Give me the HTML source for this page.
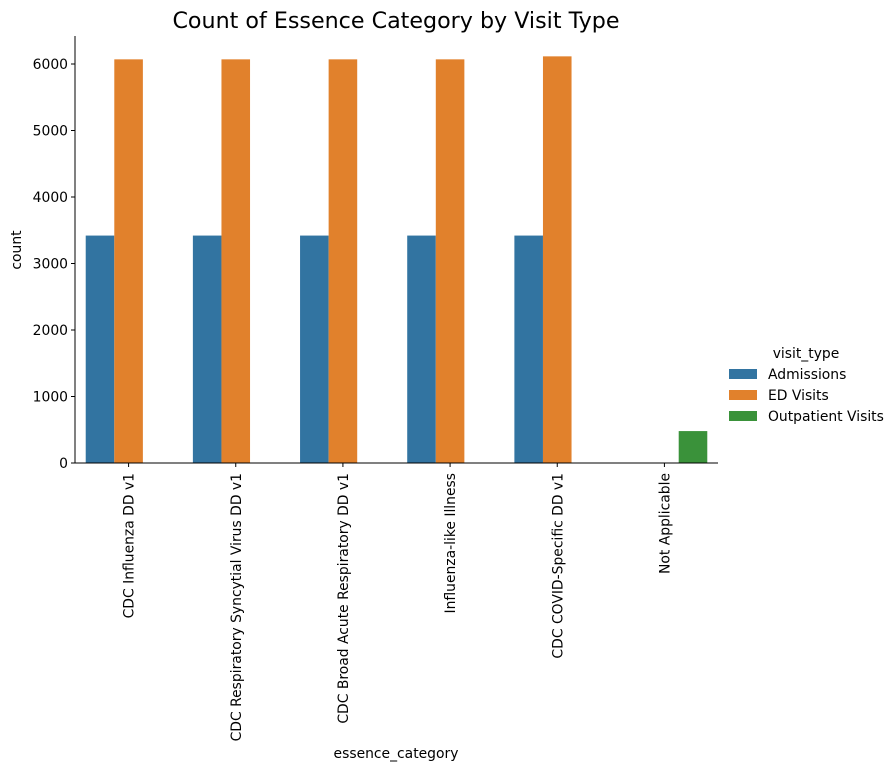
<!DOCTYPE html>
<html><head><meta charset="utf-8"><style>
body{margin:0;background:#fff;}
svg text{font-family:"DejaVu Sans","Liberation Sans",sans-serif;fill:#000;}
</style></head><body>
<svg id="chart" width="896" height="771" xmlns="http://www.w3.org/2000/svg">
<text x="396" y="28" font-size="22.2" text-anchor="middle">Count of Essence Category by Visit Type</text>
<g id="plot"></g>
<text x="21" y="250" font-size="13.9" text-anchor="middle" transform="rotate(-90 21 250)">count</text>
<text x="396" y="758" font-size="13.9" text-anchor="middle">essence_category</text>
</svg>
<script>
const categories=["CDC Influenza DD v1","CDC Respiratory Syncytial Virus DD v1","CDC Broad Acute Respiratory DD v1","Influenza-like Illness","CDC COVID-Specific DD v1","Not Applicable"];
const seriesNames=["Admissions","ED Visits","Outpatient Visits"];
const admissions=[3420,3420,3420,3420,3420,0];
const edVisits=[6070,6070,6070,6070,6115,0];
const outpatient=[0,0,0,0,0,480];
const yTicks=[0,1000,2000,3000,4000,5000,6000];
const colors=["#3274a1","#e1812c","#3a923a"];
const series=[admissions,edVisits,outpatient];
const NS="http://www.w3.org/2000/svg";
const L=75,R=718,T=36,B=463,FS=13.9;
const y=v=>B-v*(B-64)/6000;
const bw=(R-L)/categories.length;
const x=i=>L+bw*(i+0.5);
const g=document.getElementById('plot');
function mk(t,a){const e=document.createElementNS(NS,t);for(const k in a)e.setAttribute(k,a[k]);g.appendChild(e);return e;}
const barW=bw*0.8/3;
series.forEach((s,si)=>{s.forEach((v,i)=>{
 if(v<=0)return;
 const r=mk('rect',{x:x(i)+(si-1)*barW-barW/2,y:y(v),width:barW,height:B-y(v),fill:colors[si]});
 
 
});});
const ax=mk('line',{x1:L,y1:T,x2:L,y2:B,stroke:'#000','stroke-width':1});

const bx=mk('line',{x1:L,y1:B,x2:R,y2:B,stroke:'#000','stroke-width':1});

yTicks.forEach(t=>{
 mk('line',{x1:L-4,y1:y(t),x2:L,y2:y(t),stroke:'#000'});
 const tx=mk('text',{x:L-7,y:y(t)+5,'font-size':FS,'text-anchor':'end'});tx.textContent=t;
 
});
categories.forEach((c,i)=>{
 mk('line',{x1:x(i),y1:B,x2:x(i),y2:B+4,stroke:'#000'});
 const px=x(i)+5,py=B+10;
 const tx=mk('text',{x:px,y:py,'font-size':FS,'text-anchor':'end',transform:`rotate(-90 ${px} ${py})`});tx.textContent=c;
 
});
const lt=mk('text',{x:806,y:358,'font-size':FS,'text-anchor':'middle'});lt.textContent='visit_type';

seriesNames.forEach((n,i)=>{
 const yy=374+i*21;
 const r=mk('rect',{x:729,y:yy-5,width:28,height:10,fill:colors[i]});
 
 const t=mk('text',{x:768,y:yy+5,'font-size':FS});t.textContent=n;
 
});
</script>
</body></html>
